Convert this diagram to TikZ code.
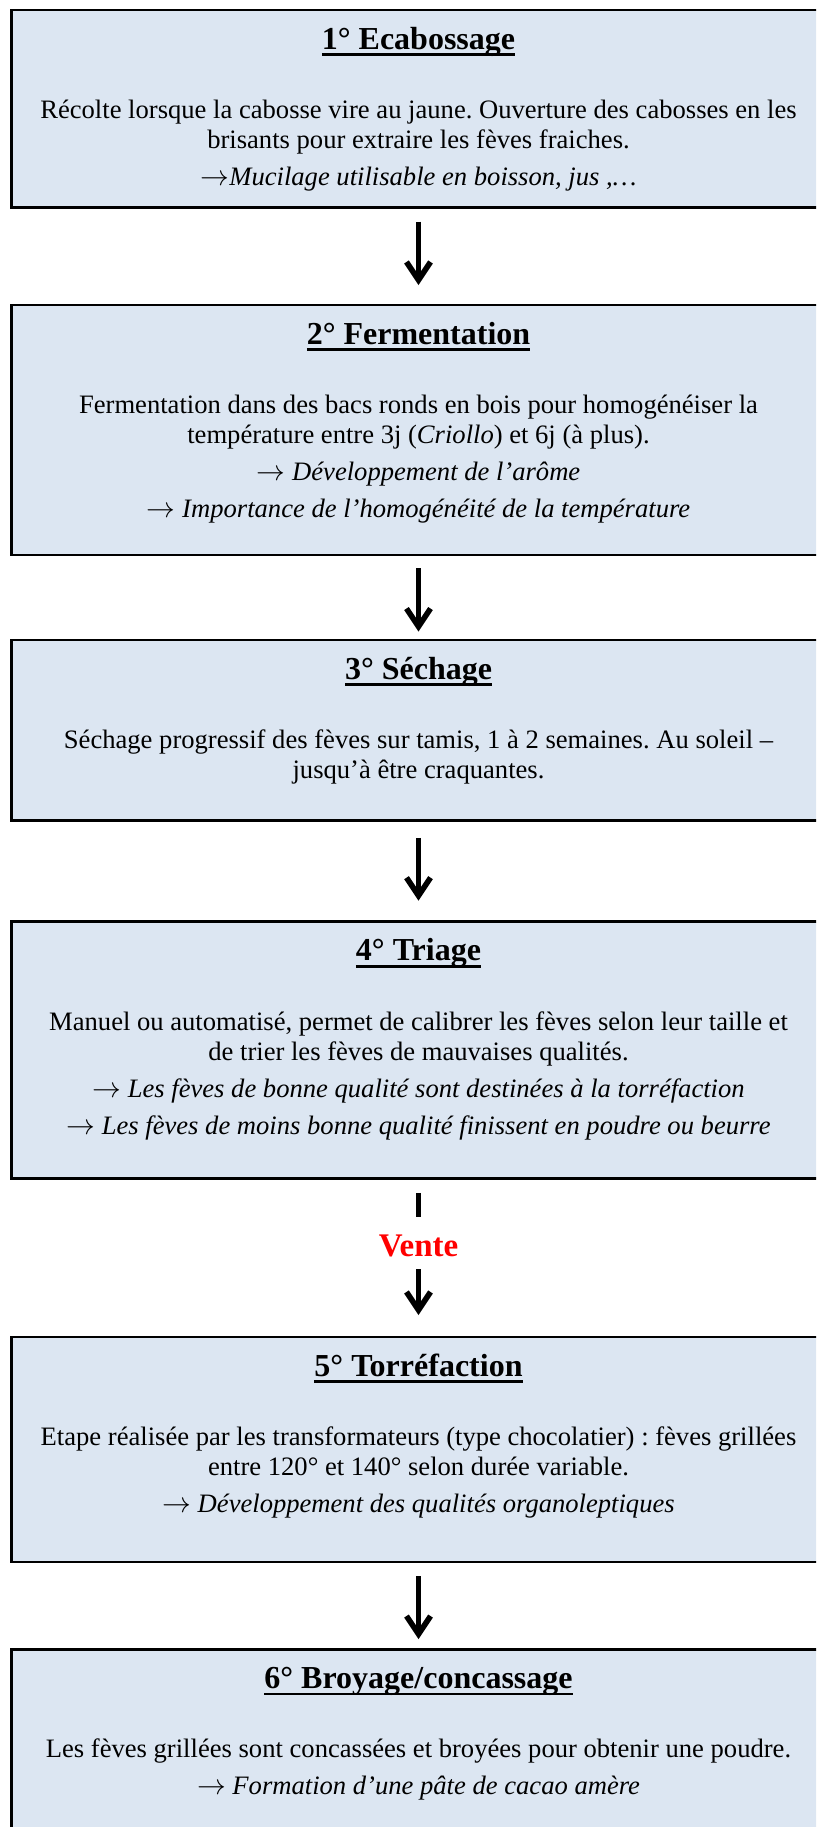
\documentclass[tikz,border=0pt]{standalone}
\usepackage{fontspec}
\setmainfont{Liberation Serif}
\usetikzlibrary{arrows.meta}
\definecolor{fondbleu}{RGB}{220,230,242}
\frenchspacing
\newcommand{\souligne}[1]{\vtop{\hbox{\raisebox{0pt}[\height][0pt]{#1}}\kern2.1pt\hrule height1.3pt}}
\newcommand{\fl}{$\rightarrow$}
\tikzset{
  etape/.style={draw=black, line width=1.3pt, fill=fondbleu, minimum width=406.8pt, inner sep=0pt, outer sep=0pt},
  titre/.style={anchor=base, inner sep=0pt, font=\fontsize{16}{18}\selectfont\bfseries},
  texte/.style={anchor=north, align=center, inner sep=0pt, font=\fontsize{13.3}{15}\selectfont},
  fleche/.style={line width=2.8pt, -{Straight Barb[length=9pt,width=12pt]}},
}

\begin{document}
\begin{tikzpicture}[x=0.5pt,y=-0.5pt]
    \clip (0,0) rectangle (816,1827);

    % Les six cadres des etapes
    \node[etape, minimum height=98.65pt] (b1) at (418.5,108.65) {};
    \node[etape, minimum height=125pt] (b2) at (418.5,430) {};
    \node[etape, minimum height=90.35pt] (b3) at (418.5,730.35) {};
    \node[etape, minimum height=128.4pt] (b4) at (418.5,1050.1) {};
    \node[etape, minimum height=112.5pt] (b5) at (418.5,1449.5) {};
    \node[etape, minimum height=115.25pt] (b6) at (418.5,1764.75) {};

    % Etape 1
    \node[titre] (t1) at ([yshift=-19.5pt]b1.north) {\souligne{1° Ecabossage}};
    \node[texte] (x1) at ([yshift=-43.5pt]b1.north) {\strut Récolte lorsque la cabosse vire au jaune. Ouverture des cabosses en les\\
      brisants pour extraire les fèves fraiches.\\[3.5pt]
      \fl\textit{Mucilage utilisable en boisson, jus ,…}};

    % Etape 2
    \node[titre] (t2) at ([yshift=-19.5pt]b2.north) {\souligne{2° Fermentation}};
    \node[texte] (x2) at ([yshift=-43.5pt]b2.north) {\strut Fermentation dans des bacs ronds en bois pour homogénéiser la\\
      température entre 3j (\textit{Criollo}) et 6j (à plus).\\[3.5pt]
      \fl{} \textit{Développement de l’arôme}\\[3.5pt]
      \fl{} \textit{Importance de l’homogénéité de la température}};

    % Etape 3
    \node[titre] (t3) at ([yshift=-19.5pt]b3.north) {\souligne{3° Séchage}};
    \node[texte] (x3) at ([yshift=-43.5pt]b3.north) {\strut Séchage progressif des fèves sur tamis, 1 à 2 semaines. Au soleil –\\
      jusqu’à être craquantes.};

    % Etape 4
    \node[titre] (t4) at ([yshift=-19.5pt]b4.north) {\souligne{4° Triage}};
    \node[texte] (x4) at ([yshift=-43.5pt]b4.north) {\strut Manuel ou automatisé, permet de calibrer les fèves selon leur taille et\\
      de trier les fèves de mauvaises qualités.\\[3.5pt]
      \fl{} \textit{Les fèves de bonne qualité sont destinées à la torréfaction}\\[3.5pt]
      \fl{} \textit{Les fèves de moins bonne qualité finissent en poudre ou beurre}};

    % Etape 5
    \node[titre] (t5) at ([yshift=-19.5pt]b5.north) {\souligne{5° Torréfaction}};
    \node[texte] (x5) at ([yshift=-43.5pt]b5.north) {\strut Etape réalisée par les transformateurs (type chocolatier) : fèves grillées\\
      entre 120° et 140° selon durée variable.\\[3.5pt]
      \fl{} \textit{Développement des qualités organoleptiques}};

    % Etape 6
    \node[titre] (t6) at ([yshift=-19.5pt]b6.north) {\souligne{6° Broyage/concassage}};
    \node[texte] (x6) at ([yshift=-43.5pt]b6.north) {\strut Les fèves grillées sont concassées et broyées pour obtenir une poudre.\\[3.5pt]
      \fl{} \textit{Formation d’une pâte de cacao amère}};

    % Vente
    \node[inner sep=0pt, text=red, font=\fontsize{16.5}{18}\selectfont\bfseries] (vente) at (418.5,1246) {Vente};

    % Fleches
    \draw[fleche, shorten <=7.2pt, shorten >=10pt] (b1.south) -- (b2.north);
    \draw[fleche, shorten <=6.5pt, shorten >=4.2pt] (b2.south) -- (b3.north);
    \draw[fleche, shorten <=8.6pt, shorten >=10.5pt] (b3.south) -- (b4.north);
    \draw[line width=2.8pt, shorten <=7.2pt, shorten >=9pt] (b4.south) -- (vente.north);
    \draw[fleche, shorten <=6pt, shorten >=11pt] (vente.south) -- (b5.north);
    \draw[fleche, shorten <=7pt, shorten >=5.2pt] (b5.south) -- (b6.north);
\end{tikzpicture}
\end{document}
